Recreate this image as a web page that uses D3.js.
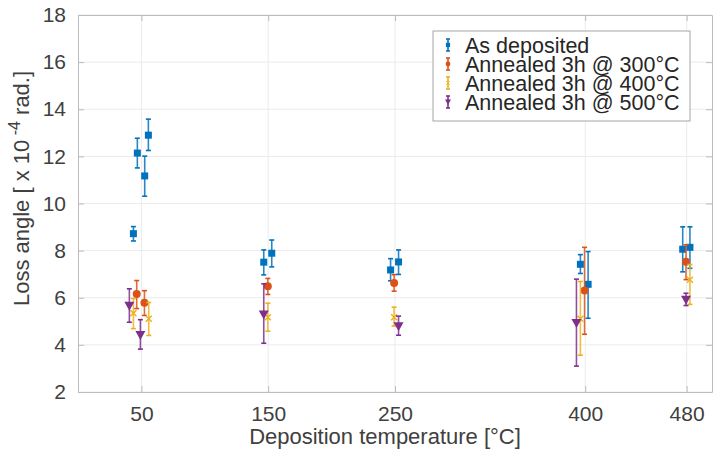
<!DOCTYPE html>
<html>
<head>
<meta charset="utf-8">
<script src="https://cdn.jsdelivr.net/npm/d3@7"></script>
<style>
  body { margin: 0; background: #fff; }
  text { font-family: "Liberation Sans", Arial, sans-serif; }
</style>
</head>
<body>
<div id="chart"></div>
<script>
// series names and colours (MATLAB default order)
const seriesNames = ["As deposited", "Annealed 3h @ 300°C", "Annealed 3h @ 400°C", "Annealed 3h @ 500°C"];
const seriesColors = ["#0072BD", "#D95319", "#EDB120", "#7E2F8E"];
const seriesMarkers = ["square", "circle", "x", "triangle"];

// x = deposition temperature (slightly spread round each group), y = loss angle, lo/hi = error bar ends
const asDepX  = [43.7, 46.8, 52.6, 55.5, 146.5, 152.8, 246.5, 252.8, 396.2, 402.3, 476.9, 482.6];
const asDepY  = [8.72, 12.14, 11.17, 12.90, 7.51, 7.89, 7.18, 7.52, 7.42, 6.57, 8.06, 8.14];
const asDepLo = [8.41, 11.51, 10.31, 12.25, 6.97, 7.31, 6.72, 6.99, 7.03, 5.13, 7.10, 7.25];
const asDepHi = [9.02, 12.77, 12.01, 13.58, 8.03, 8.45, 7.66, 8.03, 7.83, 7.96, 9.01, 9.01];

const a300X  = [46.3, 52.4, 149.7, 249.3, 399.5, 479.5];
const a300Y  = [6.16, 5.79, 6.49, 6.63, 6.31, 7.53];
const a300Lo = [5.54, 5.25, 6.14, 6.28, 4.45, 6.77];
const a300Hi = [6.73, 6.30, 6.82, 6.98, 8.14, 8.25];

const a400X  = [43.7, 55.8, 149.7, 249.3, 396.2, 482.6];
const a400Y  = [5.34, 5.11, 5.17, 5.17, 5.11, 6.76];
const a400Lo = [4.69, 4.40, 4.58, 4.80, 3.56, 5.72];
const a400Hi = [5.97, 5.80, 5.77, 5.60, 6.69, 7.41];

const a500X  = [40.5, 49.2, 146.5, 252.8, 393.1, 479.5];
const a500Y  = [5.66, 4.42, 5.29, 4.79, 4.93, 5.92];
const a500Lo = [4.96, 3.82, 4.07, 4.41, 3.10, 5.67];
const a500Hi = [6.38, 5.07, 6.59, 5.22, 6.79, 6.19];

const xTicks = [50, 150, 250, 400, 480];
const yTicks = [2, 4, 6, 8, 10, 12, 14, 16, 18];

const W = 713, H = 450;
const margin = {top: 15, right: 1, bottom: 58, left: 78};
const width = W - margin.left - margin.right;
const height = H - margin.top - margin.bottom;

const x = d3.scaleLinear().domain([0, 500]).range([0, width]);
const y = d3.scaleLinear().domain([2, 18]).range([height, 0]);

const svg = d3.select("#chart").append("svg")
    .attr("width", W).attr("height", H);
const chart = svg.append("g")
    .attr("transform", "translate(" + margin.left + "," + margin.top + ")");

// grid
chart.append("g").selectAll("line").data(xTicks).enter().append("line")
    .attr("x1", d => x(d)).attr("x2", d => x(d))
    .attr("y1", 0).attr("y2", height)
    .attr("stroke", "#ebebeb");
chart.append("g").selectAll("line").data(yTicks).enter().append("line")
    .attr("x1", 0).attr("x2", width)
    .attr("y1", d => y(d)).attr("y2", d => y(d))
    .attr("stroke", "#ebebeb");

// axes, MATLAB style: ticks inward, box round the plot
const axisColor = "#bcbcbc", textColor = "#404040";
const xAxis = d3.axisBottom(x).tickValues(xTicks).tickSizeInner(-6).tickSizeOuter(0).tickPadding(14);
const yAxis = d3.axisLeft(y).tickValues(yTicks).tickSizeInner(-6).tickSizeOuter(0).tickPadding(12);
const gx = chart.append("g").attr("transform", "translate(0," + height + ")").call(xAxis);
const gy = chart.append("g").call(yAxis);
const gxTop = chart.append("g").call(d3.axisTop(x).tickValues(xTicks).tickSizeInner(-6).tickSizeOuter(0).tickFormat(""));
const gyRight = chart.append("g").attr("transform", "translate(" + width + ",0)")
    .call(d3.axisRight(y).tickValues(yTicks).tickSizeInner(-6).tickSizeOuter(0).tickFormat(""));
[gx, gy, gxTop, gyRight].forEach(g => {
    g.select(".domain").attr("stroke", axisColor);
    g.selectAll(".tick line").attr("stroke", axisColor);
    g.selectAll(".tick text").attr("fill", textColor).style("font-size", "21px")
        .style("font-family", "'Liberation Sans', Arial, sans-serif");
});

// axis titles
chart.append("text")
    .attr("x", width / 2 - 10).attr("y", height + 52)
    .attr("text-anchor", "middle")
    .attr("fill", textColor).style("font-size", "22px")
    .text("Deposition temperature [°C]");

const ylab = chart.append("text")
    .attr("transform", "translate(-49," + (height / 2 - 15) + ") rotate(-90)")
    .attr("text-anchor", "middle")
    .attr("fill", textColor).style("font-size", "22px");
ylab.append("tspan").text("Loss angle [ x 10");
ylab.append("tspan").attr("dy", -9).style("font-size", "16px").text(" -4");
ylab.append("tspan").attr("dy", 9).text(" rad.]");

// markers
function drawMarker(g, type, color, cx, cy) {
    if (type === "square") {
        g.append("rect").attr("x", cx - 3.5).attr("y", cy - 3.5).attr("width", 7).attr("height", 7)
            .attr("fill", color);
    } else if (type === "circle") {
        g.append("circle").attr("cx", cx).attr("cy", cy).attr("r", 4).attr("fill", color);
    } else if (type === "x") {
        g.append("path").attr("d", "M" + (cx - 3) + "," + (cy - 3) + "L" + (cx + 3) + "," + (cy + 3) +
            "M" + (cx - 3) + "," + (cy + 3) + "L" + (cx + 3) + "," + (cy - 3))
            .attr("stroke", color).attr("stroke-width", 1.5).attr("fill", "none");
    } else {
        g.append("path").attr("d", "M" + (cx - 5) + "," + (cy - 4) + "L" + (cx + 5) + "," + (cy - 4) +
            "L" + cx + "," + (cy + 5) + "Z").attr("fill", color);
    }
}

function drawSeries(xs, ys, lo, hi, i) {
    const color = seriesColors[i];
    const g = chart.append("g");
    xs.forEach((xv, k) => {
        const px = x(xv);
        g.append("line").attr("x1", px).attr("x2", px)
            .attr("y1", y(lo[k])).attr("y2", y(hi[k]))
            .attr("stroke", color).attr("stroke-width", 1.6).attr("stroke-opacity", 0.85);
        [lo[k], hi[k]].forEach(v => {
            g.append("line").attr("x1", px - 2.5).attr("x2", px + 2.5)
                .attr("y1", y(v)).attr("y2", y(v))
                .attr("stroke", color).attr("stroke-width", 1.6);
        });
        drawMarker(g, seriesMarkers[i], color, px, y(ys[k]));
    });
}

drawSeries(asDepX, asDepY, asDepLo, asDepHi, 0);
drawSeries(a300X, a300Y, a300Lo, a300Hi, 1);
drawSeries(a400X, a400Y, a400Lo, a400Hi, 2);
drawSeries(a500X, a500Y, a500Lo, a500Hi, 3);

// legend
const legend = svg.append("g").attr("transform", "translate(433,31)");
legend.append("rect").attr("width", 257).attr("height", 90)
    .attr("fill", "#fff").attr("stroke", "#a6a6a6");
seriesNames.forEach((name, i) => {
    const ly = 14 + i * 19;
    const color = seriesColors[i];
    legend.append("line").attr("x1", 15).attr("x2", 15).attr("y1", ly - 6).attr("y2", ly + 6)
        .attr("stroke", color).attr("stroke-width", 1.6);
    [ly - 6, ly + 6].forEach(v => legend.append("line").attr("x1", 13).attr("x2", 17)
        .attr("y1", v).attr("y2", v).attr("stroke", color).attr("stroke-width", 1.6));
    const mg = legend.append("g").attr("transform", "translate(15," + ly + ") scale(0.6)");
    drawMarker(mg, seriesMarkers[i], color, 0, 0);
    legend.append("text").attr("x", 32).attr("y", ly + 7.5)
        .attr("fill", "#262626").style("font-size", "21.5px").text(name);
});
</script>
</body>
</html>
